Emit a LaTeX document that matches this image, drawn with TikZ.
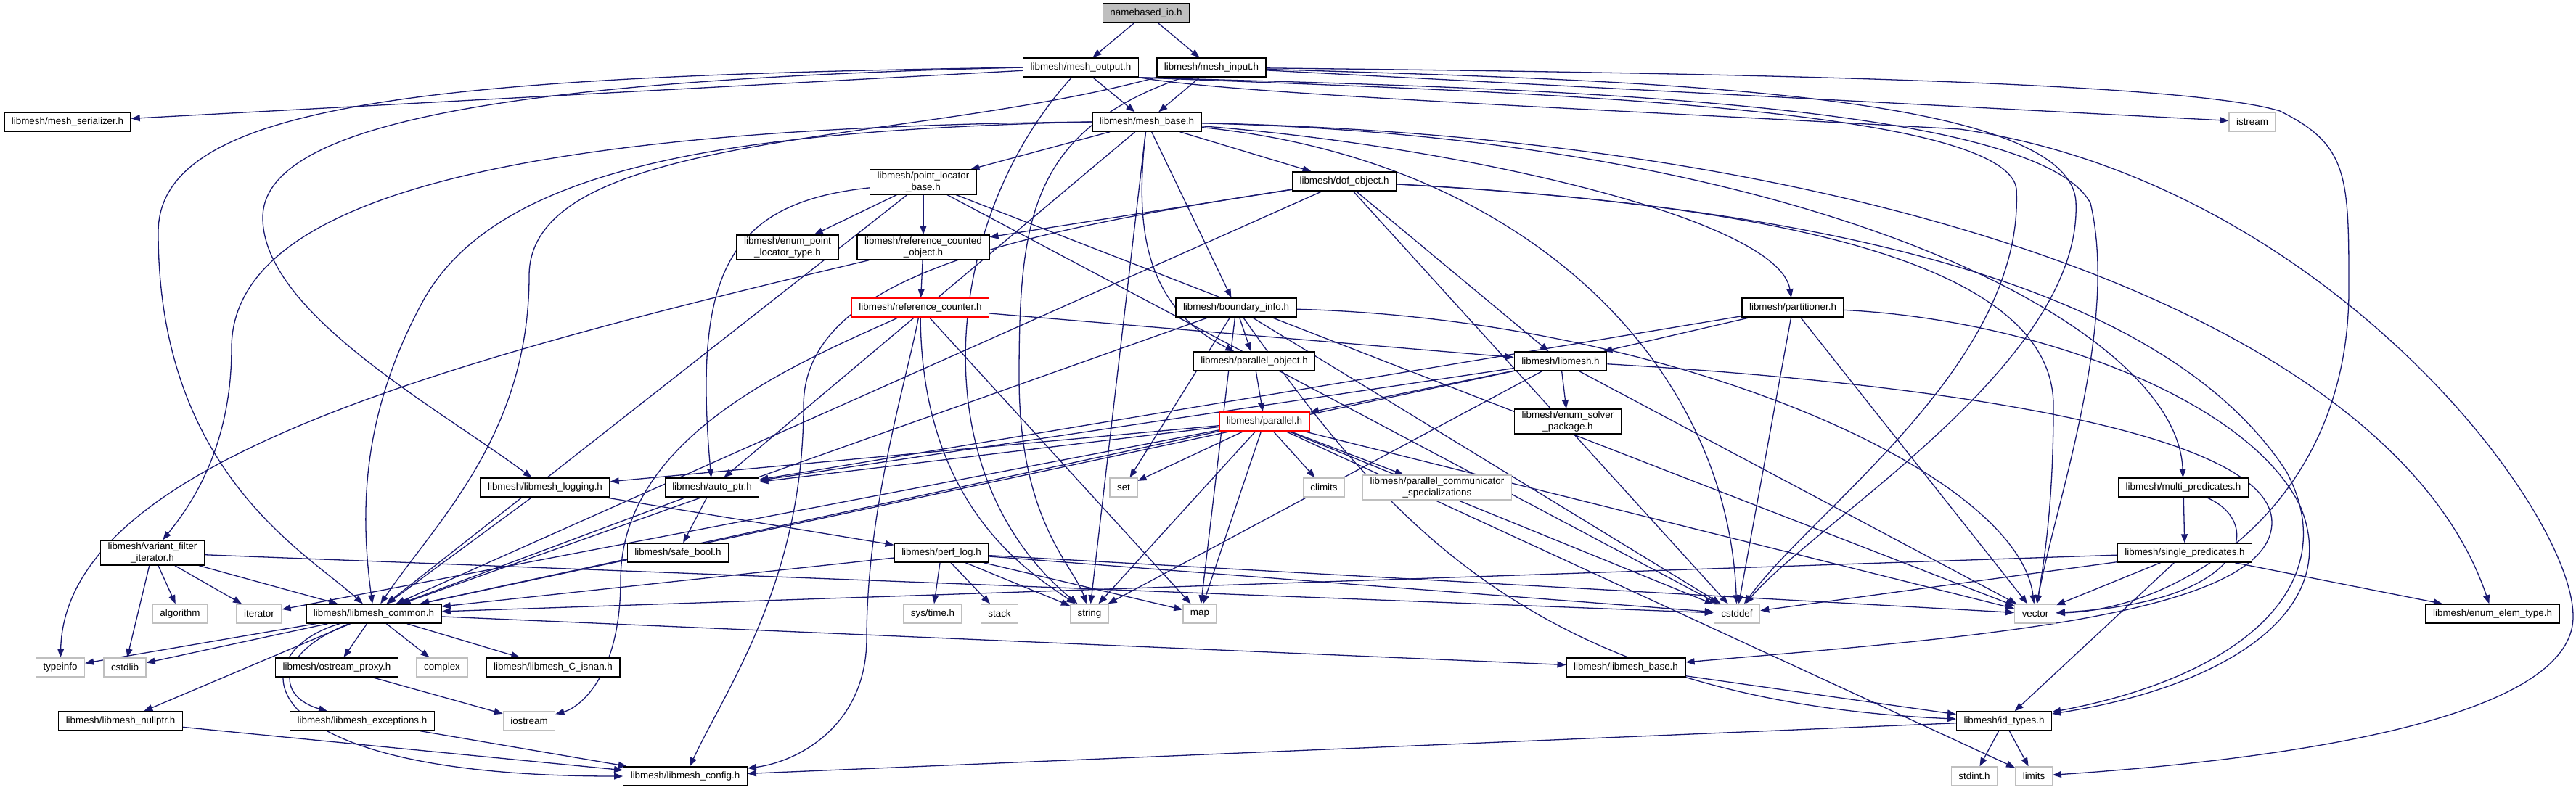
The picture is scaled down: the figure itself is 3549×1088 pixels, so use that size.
\documentclass[tikz,border=0pt]{standalone}
\usepackage{fontspec}
\setmainfont{Liberation Sans}
\usetikzlibrary{arrows.meta}
\definecolor{edgeblue}{HTML}{191970}
\definecolor{sysgray}{HTML}{BFBFBF}
\pgfdeclarelayer{bg}
\pgfsetlayers{bg,main}
\tikzset{
  nbox/.style={draw=black, line width=1.4pt, fill=white, inner xsep=10pt, inner ysep=3pt,
    minimum height=26pt, font=\fontsize{13.4}{15.5}\selectfont, align=center},
  sbox/.style={nbox, draw=sysgray},
  rbox/.style={nbox, draw=red},
  rootbox/.style={nbox, fill=sysgray},
  dep/.style={draw=edgeblue, line width=1.3pt, -{Triangle[length=12pt,width=9pt]}},
}
\begin{document}
\begin{tikzpicture}[x=1pt,y=-1pt]
\useasboundingbox (0,0) rectangle (3549,1088);
% nodes
\node[rootbox] (nb) at (1579,18) {namebased\_io.h};
\node[nbox] (mo) at (1489,93) {libmesh/mesh\_output.h};
\node[nbox] (mi) at (1669,93) {libmesh/mesh\_input.h};
\node[nbox] (ms) at (93,168) {libmesh/mesh\_serializer.h};
\node[nbox] (mb) at (1580,168) {libmesh/mesh\_base.h};
\node[sbox] (ist) at (3103,168) {istream};
\node[nbox] (plb) at (1272,251) {libmesh/point\_locator\\\_base.h};
\node[nbox] (dof) at (1852,250) {libmesh/dof\_object.h};
\node[nbox] (eplt) at (1085,341) {libmesh/enum\_point\\\_locator\_type.h};
\node[nbox] (rco) at (1272,341) {libmesh/reference\_counted\\\_object.h};
\node[rbox] (rc) at (1268,424) {libmesh/reference\_counter.h};
\node[nbox] (bi) at (1703,424) {libmesh/boundary\_info.h};
\node[nbox] (part) at (2470,424) {libmesh/partitioner.h};
\node[nbox] (po) at (1728,498) {libmesh/parallel\_object.h};
\node[nbox] (lm) at (2150,498) {libmesh/libmesh.h};
\node[rbox] (par) at (1742,581) {libmesh/parallel.h};
\node[nbox] (esp) at (2160,581) {libmesh/enum\_solver\\\_package.h};
\node[nbox] (log) at (751,672) {libmesh/libmesh\_logging.h};
\node[nbox] (ap) at (981,672) {libmesh/auto\_ptr.h};
\node[sbox] (set) at (1548,672) {set};
\node[sbox] (clim) at (1824,672) {climits};
\node[sbox] (pcs) at (1980,672) {libmesh/parallel\_communicator\\\_specializations};
\node[nbox] (mp) at (3008,672) {libmesh/multi\_predicates.h};
\node[nbox] (vfi) at (210,762) {libmesh/variant\_filter\\\_iterator.h};
\node[nbox] (sb) at (934,762) {libmesh/safe\_bool.h};
\node[nbox] (pl) at (1297,762) {libmesh/perf\_log.h};
\node[nbox] (sp) at (3010,762) {libmesh/single\_predicates.h};
\node[sbox] (alg) at (248,846) {algorithm};
\node[sbox] (iter) at (357,846) {iterator};
\node[nbox] (com) at (515,846) {libmesh/libmesh\_common.h};
\node[sbox] (st) at (1285,846) {sys/time.h};
\node[sbox] (stk) at (1377,846) {stack};
\node[sbox] (str) at (1501,846) {string};
\node[sbox] (map) at (1653,846) {map};
\node[sbox] (cdef) at (2393,846) {cstddef};
\node[sbox] (vec) at (2804,846) {vector};
\node[nbox] (eet) at (3434,846) {libmesh/enum\_elem\_type.h};
\node[sbox] (ti) at (83,920) {typeinfo};
\node[sbox] (csl) at (172,920) {cstdlib};
\node[nbox] (osp) at (464,920) {libmesh/ostream\_proxy.h};
\node[sbox] (cplx) at (609,920) {complex};
\node[nbox] (isnan) at (762,920) {libmesh/libmesh\_C\_isnan.h};
\node[nbox] (lbase) at (2240,920) {libmesh/libmesh\_base.h};
\node[nbox] (np) at (166,994) {libmesh/libmesh\_nullptr.h};
\node[nbox] (exc) at (499,994) {libmesh/libmesh\_exceptions.h};
\node[sbox] (ios) at (729,994) {iostream};
\node[nbox] (idt) at (2761,994) {libmesh/id\_types.h};
\node[nbox] (cfg) at (944,1070) {libmesh/libmesh\_config.h};
\node[sbox] (sti) at (2720,1070) {stdint.h};
\node[sbox] (lim) at (2802,1070) {limits};
% edges
\begin{pgfonlayer}{bg}
\draw[dep] (nb) -- (mo);
\draw[dep] (nb) -- (mi);
\draw[dep] (mo) -- (mb);
\draw[dep] (mi) -- (mb);
% mesh_output
\draw[dep] (mo) -- (ms);
\draw[dep] (mo.west) .. controls (700,110) and (362,170) .. (362,300) .. controls (362,430) and (600,560) .. (log);
\draw[dep] (mo.west) .. controls (600,105) and (218,140) .. (218,320) .. controls (218,650) and (420,760) .. (com);
\draw[dep] (mo.south east) .. controls (2000,125) and (2760,140) .. (2778,260) .. controls (2790,500) and (2500,700) .. (cdef);
\draw[dep] (mo.south east) .. controls (2000,120) and (2800,130) .. (2880,280) .. controls (2920,450) and (2830,700) .. (vec);
\draw[dep] (mo.south east) .. controls (1700,130) and (2200,150) .. (2700,178) .. controls (3200,250) and (3545,700) .. (3545,850) .. controls (3545,1000) and (3100,1050) .. (lim);
\draw[dep] (mo) .. controls (1300,300) and (1264,650) .. (str);
% mesh_input
\draw[dep] (mi) -- (ist);
\draw[dep] (mi.south west) .. controls (1250,200) and (729,180) .. (729,380) .. controls (729,600) and (600,720) .. (com);
\draw[dep] (mi) .. controls (1420,180) and (1404,300) .. (1404,520) .. controls (1404,720) and (1480,780) .. (str);
\draw[dep] (mi) .. controls (2200,110) and (2850,120) .. (2860,278) .. controls (2870,500) and (2500,720) .. (cdef);
\draw[dep] (mi) .. controls (2300,100) and (3000,110) .. (3141,153) .. controls (3236,200) and (3236,243) .. (3236,400) .. controls (3236,700) and (3000,840) .. (vec);
% mesh_base
\draw[dep] (mb) -- (plb);
\draw[dep] (mb) -- (dof);
\draw[dep] (mb) -- (bi);
\draw[dep] (mb) .. controls (1565,300) and (1570,420) .. (po);
\draw[dep] (mb) .. controls (2000,200) and (2450,300) .. (part);
\draw[dep] (mb) .. controls (2500,190) and (3000,450) .. (mp);
\draw[dep] (mb) .. controls (2600,190) and (3300,450) .. (eet);
\draw[dep] (mb) .. controls (2100,220) and (2380,500) .. (cdef);
\draw[dep] (mb) -- (str);
\draw[dep] (mb) -- (ap);
\draw[dep] (mb.west) .. controls (1000,180) and (680,230) .. (580,420) .. controls (500,570) and (495,700) .. (com);
\draw[dep] (mb.west) .. controls (800,175) and (319,250) .. (319,480) .. controls (319,620) and (260,700) .. (vfi);
% point_locator_base
\draw[dep] (plb) -- (eplt);
\draw[dep] (plb) -- (rco);
\draw[dep] (plb) .. controls (1000,280) and (955,380) .. (ap);
\draw[dep] (plb) -- (com);
\draw[dep] (plb) -- (vec);
\draw[dep] (plb) -- (cdef);
% dof_object
\draw[dep] (dof) -- (rco);
\draw[dep] (dof) -- (lm);
\draw[dep] (dof) -- (com);
\draw[dep] (dof) .. controls (1400,320) and (1107,380) .. (1107,560) .. controls (1107,800) and (1000,950) .. (cfg);
\draw[dep] (dof) -- (cdef);
\draw[dep] (dof) .. controls (2400,280) and (2830,350) .. (2829,560) .. controls (2829,700) and (2815,780) .. (vec);
\draw[dep] (dof) .. controls (2600,290) and (3000,420) .. (3150,650) .. controls (3230,800) and (3100,930) .. (idt);
% reference_counted_object
\draw[dep] (rco) -- (rc);
\draw[dep] (rco) .. controls (600,500) and (90,640) .. (ti);
% reference_counter
\draw[dep] (rc) -- (lm);
\draw[dep] (rc) .. controls (1250,520) and (1194,700) .. (1194,880) .. controls (1194,1000) and (1100,1050) .. (cfg);
\draw[dep] (rc) .. controls (1100,500) and (855,600) .. (855,800) .. controls (855,930) and (800,975) .. (ios);
\draw[dep] (rc) .. controls (1270,700) and (1420,790) .. (str);
\draw[dep] (rc) -- (map);
% boundary_info
\draw[dep] (bi) -- (po);
\draw[dep] (bi) -- (set);
\draw[dep] (bi) -- (map);
\draw[dep] (bi) -- (com);
\draw[dep] (bi) -- (cdef);
\draw[dep] (bi) .. controls (2300,440) and (2780,650) .. (vec);
\draw[dep] (bi) .. controls (1900,700) and (2100,965) .. (idt);
% partitioner
\draw[dep] (part) -- (lm);
\draw[dep] (part) -- (ap);
\draw[dep] (part) -- (cdef);
\draw[dep] (part) -- (vec);
\draw[dep] (part) .. controls (2800,440) and (3100,550) .. (3170,700) .. controls (3230,850) and (3050,950) .. (idt);
% parallel_object
\draw[dep] (po) -- (par);
% libmesh.h
\draw[dep] (lm) -- (par);
\draw[dep] (lm) -- (esp);
\draw[dep] (lm) -- (ap);
\draw[dep] (lm) -- (com);
\draw[dep] (lm) -- (str);
\draw[dep] (lm) -- (vec);
\draw[dep] (lm) .. controls (2700,530) and (3130,600) .. (3130,720) .. controls (3130,850) and (2700,880) .. (lbase);
% parallel.h
\draw[dep] (par) -- (com);
\draw[dep] (par) -- (log);
\draw[dep] (par) -- (ap);
\draw[dep] (par) -- (iter);
\draw[dep] (par) -- (set);
\draw[dep] (par) -- (clim);
\draw[dep] (par) -- (pcs);
\draw[dep] (par) -- (str);
\draw[dep] (par) -- (map);
\draw[dep] (par) -- (cdef);
\draw[dep] (par) -- (vec);
\draw[dep] (par) -- (lim);
% logging, auto_ptr, perf_log
\draw[dep] (log) -- (com);
\draw[dep] (log) -- (pl);
\draw[dep] (ap) -- (com);
\draw[dep] (ap) -- (sb);
\draw[dep] (pl) -- (com);
\draw[dep] (pl) -- (st);
\draw[dep] (pl) -- (stk);
\draw[dep] (pl) -- (str);
\draw[dep] (pl) -- (map);
\draw[dep] (pl) -- (cdef);
\draw[dep] (pl) -- (vec);
% variant_filter_iterator
\draw[dep] (vfi) -- (com);
\draw[dep] (vfi) -- (alg);
\draw[dep] (vfi) -- (iter);
\draw[dep] (vfi) -- (csl);
\draw[dep] (vfi) -- (cdef);
% predicates
\draw[dep] (mp) -- (sp);
\draw[dep] (mp) .. controls (3120,720) and (3100,830) .. (vec);
\draw[dep] (sp) -- (com);
\draw[dep] (sp) -- (cdef);
\draw[dep] (sp) -- (vec);
\draw[dep] (sp) -- (idt);
\draw[dep] (sp) -- (eet);
% lower part
\draw[dep] (lbase) -- (idt);
\draw[dep] (idt) -- (cfg);
\draw[dep] (idt) -- (sti);
\draw[dep] (idt) -- (lim);
\draw[dep] (com) -- (ti);
\draw[dep] (com) -- (csl);
\draw[dep] (com) -- (np);
\draw[dep] (com) .. controls (380,900) and (380,960) .. (exc);
\draw[dep] (com) .. controls (330,900) and (330,1070) .. (cfg);
\draw[dep] (com) -- (osp);
\draw[dep] (com) -- (cplx);
\draw[dep] (com) -- (isnan);
\draw[dep] (com) -- (lbase);
\draw[dep] (np) -- (cfg);
\draw[dep] (exc) -- (cfg);
\draw[dep] (osp) -- (ios);
\end{pgfonlayer}
\end{tikzpicture}
\end{document}
